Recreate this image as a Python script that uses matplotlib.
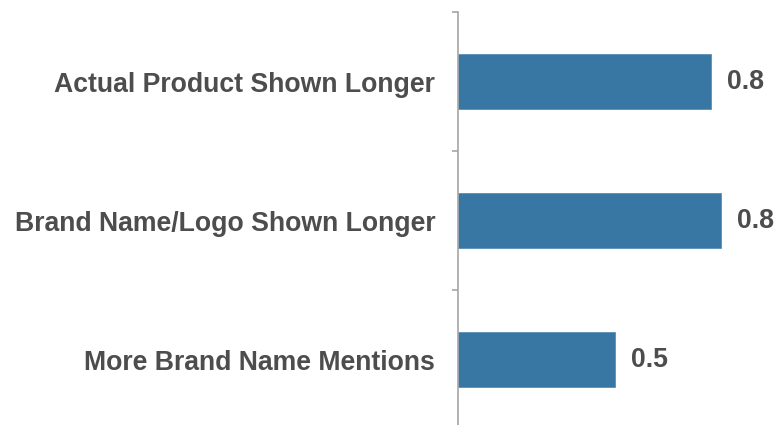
import matplotlib
matplotlib.use("Agg")
import matplotlib.pyplot as plt

categories = ["Actual Product Shown Longer", "Brand Name/Logo Shown Longer", "More Brand Name Mentions"]
values = [0.79, 0.82, 0.49]
value_labels = ["0.8", "0.8", "0.5"]

plt.rcParams['font.family'] = ['Liberation Sans', 'DejaVu Sans']

W, H = 775, 425
fig = plt.figure(figsize=(W / 100, H / 100), dpi=100)
left_px, top_px, bottom_px = 457.5, 12, 429
xmax = 0.9
px_per_unit = 321.2
ax = fig.add_axes([left_px / W, 1 - bottom_px / H, xmax * px_per_unit / W, (bottom_px - top_px) / H])

n = len(categories)
ypos = list(range(n))
ax.barh(ypos, values, height=0.4, color="#3876a3", edgecolor="#5a8fb8", linewidth=0.6)
ax.set_ylim(n - 0.5, -0.5)
ax.set_xlim(0, xmax)

for y, v, lab in zip(ypos, values, value_labels):
    ax.annotate(lab, (v, y), xytext=(11.5, 0), textcoords="offset points",
                ha="left", va="center", fontsize=19.2, fontweight="bold", color="#4d4d4d")

ax.set_yticks(ypos)
ax.set_yticklabels(categories, fontsize=19.2, fontweight="bold", color="#4d4d4d")
ax.tick_params(axis="y", which="major", length=0, pad=16)
ax.set_yticks([i - 0.5 for i in range(n + 1)], minor=True)
ax.tick_params(axis="y", which="minor", length=4, width=1.2, color="#a6a6a6")
ax.set_xticks([])
for s in ["top", "right", "bottom"]:
    ax.spines[s].set_visible(False)
ax.spines["left"].set_color("#a6a6a6")
ax.spines["left"].set_linewidth(1.2)

fig.savefig("out.png", dpi=100)
